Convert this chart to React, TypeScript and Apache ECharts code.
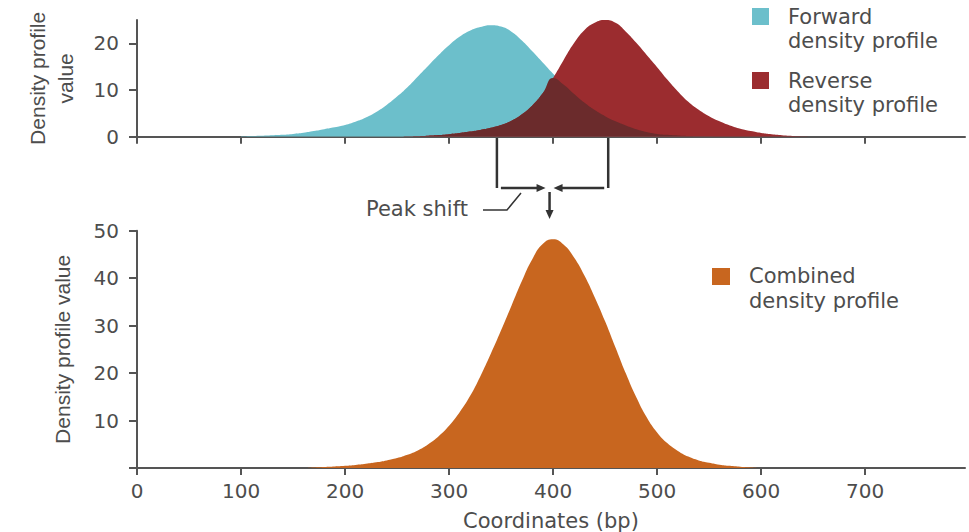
import React, { useEffect, useRef } from "react";
import * as echarts from "echarts";

// Coordinates (bp) at which the density profiles were read
const coordinates = [
  100, 110, 120, 130, 140, 150, 160, 170, 180, 190,
  200, 210, 220, 230, 240, 250, 260, 270, 280, 290,
  300, 310, 320, 330, 340, 350, 360, 370, 380, 390,
  400, 410, 420, 430, 440, 450, 460, 470, 480, 490,
  500, 510, 520, 530, 540, 550, 560, 570, 580, 590,
  600, 610, 620, 630, 640, 650,
];

const forwardDensity = [
  0.1, 0.15, 0.2, 0.3, 0.4, 0.6, 0.85, 1.2, 1.6, 2.0,
  2.5, 3.2, 4.1, 5.3, 6.8, 8.6, 10.6, 12.9, 15.2, 17.5,
  19.6, 21.4, 22.7, 23.5, 23.9, 23.6, 22.5, 20.6, 18.3, 15.9,
  13.5, 11.2, 9.2, 7.3, 5.7, 4.4, 3.3, 2.4, 1.6, 1.0,
  0.6, 0.4, 0.25, 0.15, 0.1, 0.05, 0, 0, 0, 0,
  0, 0, 0, 0, 0, 0,
];

const reverseDensity = [
  0, 0, 0, 0, 0, 0, 0, 0, 0, 0,
  0, 0, 0, 0, 0, 0, 0.05, 0.1, 0.2, 0.35,
  0.55, 0.8, 1.1, 1.45, 1.9, 2.5, 3.4, 4.8, 6.7, 9.3,
  12.6, 16.4, 20.0, 22.8, 24.4, 25.0, 24.4, 22.5, 20.1, 17.5,
  14.9, 12.2, 9.7, 7.5, 5.8, 4.4, 3.3, 2.4, 1.7, 1.2,
  0.8, 0.5, 0.3, 0.15, 0.05, 0,
];

const combinedDensity = [
  0, 0, 0, 0, 0, 0, 0, 0.1, 0.2, 0.3,
  0.45, 0.65, 0.9, 1.2, 1.6, 2.1, 2.8, 3.7, 5.0, 6.7,
  8.9, 11.7, 15.1, 19.3, 24.0, 29.0, 34.2, 39.4, 44.0, 47.2,
  48.2, 47.1, 44.4, 40.6, 36.0, 30.9, 25.4, 19.9, 14.9, 10.7,
  7.5, 5.2, 3.6, 2.4, 1.6, 1.1, 0.7, 0.45, 0.25, 0.1,
  0, 0, 0, 0, 0, 0,
];

const xTickValues = [0, 100, 200, 300, 400, 500, 600, 700];
const topYTickValues = [0, 10, 20];
const bottomYTickValues = [0, 10, 20, 30, 40, 50];
const bottomYLabelValues = [10, 20, 30, 40, 50];

const forwardPeak = 346;
const reversePeak = 453;

const COLORS = {
  forward: "#6CBFCB",
  reverse: "#9B2C2F",
  overlap: "#6B2B2C",
  combined: "#C8661F",
  axis: "#555555",
  text: "#4d4d4d",
  mark: "#333333",
};

const H_FONT = "DejaVu Sans";
const V_FONT = "Liberation Sans";

export default function App() {
  const ref = useRef<HTMLDivElement | null>(null);

  useEffect(() => {
    if (!ref.current) return;
    const chart = echarts.init(ref.current, undefined, { renderer: "svg" });

    const toPairs = (vals: number[]) => coordinates.map((c, i) => [c, vals[i]]);
    const overlap = coordinates.map((c, i) => [c, Math.min(forwardDensity[i], reverseDensity[i])]);

    const xAxis = (gridIndex: number, showLabels: boolean, name?: string) => ({
      type: "value",
      gridIndex,
      min: 0,
      max: 796,
      name: name || "",
      nameLocation: "middle",
      nameGap: 42,
      nameTextStyle: { fontFamily: H_FONT, fontSize: 21, color: COLORS.text },
      axisLine: { show: true, onZero: false, lineStyle: { color: COLORS.axis, width: 2 } },
      axisTick: { show: true, customValues: xTickValues, length: 7, lineStyle: { color: COLORS.axis, width: 2 } },
      axisLabel: {
        show: showLabels,
        customValues: xTickValues,
        margin: 13,
        color: COLORS.text,
        fontFamily: H_FONT,
        fontSize: 20,
      },
      splitLine: { show: false },
    });

    const yAxis = (
      gridIndex: number,
      max: number,
      ticks: number[],
      labels: number[],
      name: string,
      nameGap: number
    ) => ({
      type: "value",
      gridIndex,
      min: 0,
      max,
      name,
      nameLocation: "middle",
      nameRotate: 90,
      nameGap,
      nameTextStyle: { fontFamily: V_FONT, fontSize: 21, color: COLORS.text, lineHeight: 28 },
      axisLine: { show: true, onZero: false, lineStyle: { color: COLORS.axis, width: 2 } },
      axisTick: { show: true, customValues: ticks, length: 8, lineStyle: { color: COLORS.axis, width: 2 } },
      axisLabel: {
        show: true,
        customValues: labels,
        margin: 18,
        color: COLORS.text,
        fontFamily: H_FONT,
        fontSize: 20,
      },
      splitLine: { show: false },
    });

    const area = (name: string, data: number[][], color: string, xi: number) => ({
      name,
      type: "line",
      xAxisIndex: xi,
      yAxisIndex: xi,
      data,
      smooth: 0.5,
      symbol: "none",
      showSymbol: false,
      lineStyle: { width: 0, color },
      itemStyle: { color },
      areaStyle: { color, opacity: 1 },
      silent: true,
    });

    chart.setOption({
      animation: false,
      grid: [
        { left: 137, right: 4, top: 20, height: 116.7 },
        { left: 137, right: 4, top: 230.7, height: 240 },
      ],
      xAxis: [xAxis(0, false), xAxis(1, true, "Coordinates (bp)")],
      yAxis: [
        yAxis(0, 25, topYTickValues, topYTickValues, "Density profile\nvalue", 58),
        yAxis(1, 50, bottomYTickValues, bottomYLabelValues, "Density profile value", 61),
      ],
      series: [
        area("Forward density profile", toPairs(forwardDensity), COLORS.forward, 0),
        area("Reverse density profile", toPairs(reverseDensity), COLORS.reverse, 0),
        area("Overlap", overlap, COLORS.overlap, 0),
        area("Combined density profile", toPairs(combinedDensity), COLORS.combined, 1),
      ],
    });

    const fx = chart.convertToPixel({ xAxisIndex: 0 }, forwardPeak) as number;
    const rx = chart.convertToPixel({ xAxisIndex: 0 }, reversePeak) as number;
    const c = (fx + rx) / 2 - 3;
    const by = 188;
    const stroke = { stroke: COLORS.mark, lineWidth: 2.5 };
    const txt = (text: string, x: number, y: number) => ({
      type: "text",
      x,
      y,
      style: {
        text,
        fill: COLORS.text,
        font: `21px "${H_FONT}"`,
        textAlign: "left",
        textVerticalAlign: "middle",
      },
    });

    chart.setOption({
      graphic: [
        { type: "line", shape: { x1: fx, y1: 33, x2: fx, y2: by }, style: stroke },
        { type: "line", shape: { x1: rx, y1: 37, x2: rx, y2: by }, style: stroke },
        { type: "line", shape: { x1: fx + 4, y1: by, x2: c - 8, y2: by }, style: stroke },
        { type: "polygon", shape: { points: [[c - 4, by], [c - 13, by - 4], [c - 13, by + 4]] }, style: { fill: COLORS.mark } },
        { type: "line", shape: { x1: rx - 4, y1: by, x2: c + 8, y2: by }, style: stroke },
        { type: "polygon", shape: { points: [[c + 4, by], [c + 13, by - 4], [c + 13, by + 4]] }, style: { fill: COLORS.mark } },
        { type: "line", shape: { x1: c, y1: 192, x2: c, y2: 211 }, style: stroke },
        { type: "polygon", shape: { points: [[c, 219], [c - 4, 210], [c + 4, 210]] }, style: { fill: COLORS.mark } },
        { type: "polyline", shape: { points: [[483, 210], [507, 210], [521, 193]] }, style: { stroke: COLORS.mark, lineWidth: 1.5, fill: null } },
        txt("Peak shift", 366, 208.5),
        // top legend
        { type: "rect", shape: { x: 752, y: 8, width: 17, height: 17 }, style: { fill: COLORS.forward } },
        txt("Forward", 788, 16.6),
        txt("density profile", 788, 41),
        { type: "rect", shape: { x: 752, y: 72, width: 17, height: 17 }, style: { fill: COLORS.reverse } },
        txt("Reverse", 788, 80.8),
        txt("density profile", 788, 104.8),
        // bottom legend
        { type: "rect", shape: { x: 712, y: 268, width: 18, height: 17 }, style: { fill: COLORS.combined } },
        txt("Combined", 749, 276),
        txt("density profile", 749, 301),
      ],
    });

    return () => chart.dispose();
  }, []);

  return (
    <div
      ref={ref}
      style={{ position: "fixed", left: 0, top: 0, width: 969, height: 532, background: "#fff" }}
    />
  );
}
